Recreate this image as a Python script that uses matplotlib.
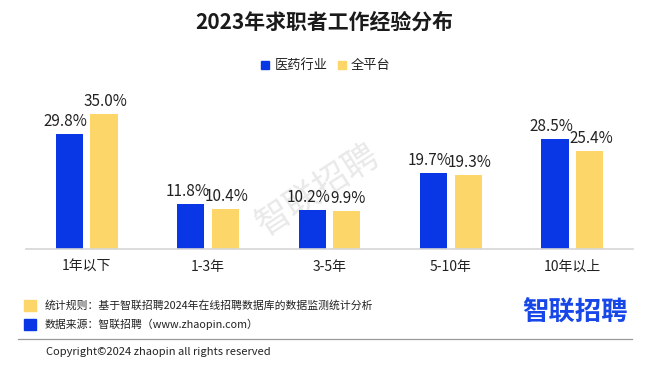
import matplotlib.pyplot as plt
from matplotlib.patches import Rectangle
import numpy as np

plt.rcParams['font.family'] = ['Noto Sans CJK SC', 'DejaVu Sans']

categories = ['1年以下', '1-3年', '3-5年', '5-10年', '10年以上']
pharma = [29.8, 11.8, 10.2, 19.7, 28.5]
platform = [35.0, 10.4, 9.9, 19.3, 25.4]
series_names = ['医药行业', '全平台']

blue = '#0A37E6'
yellow = '#FDD66A'

W, H = 650, 368
fig = plt.figure(figsize=(W / 100, H / 100), dpi=100)
fig.patch.set_facecolor('white')

# watermark, behind everything
fig.text(318 / W, 1 - 190 / H, '智联招聘', ha='center', va='center', fontsize=25,
         rotation=33, color='#E9E9E9', zorder=0)

# axes placed by pixels
ax = fig.add_axes([26 / W, (H - 249) / H, (633 - 26) / W, 154 / H])
ax.set_zorder(2)
x = np.arange(len(categories))
bw = 0.225
gap = 0.03
b1 = ax.bar(x - bw / 2 - gap, pharma, bw, color=blue)
b2 = ax.bar(x + bw / 2 + gap, platform, bw, color=yellow)

for rect, v in zip(b1, pharma):
    ax.text(rect.get_x() + rect.get_width() / 2 - 0.03, v + 1.0, f'{v:.1f}%',
            ha='center', va='bottom', fontsize=11, color='#222222')
for rect, v in zip(b2, platform):
    ax.text(rect.get_x() + rect.get_width() / 2 + 0.01, v + 1.0, f'{v:.1f}%',
            ha='center', va='bottom', fontsize=11, color='#222222')

ax.set_xlim(-0.5, len(categories) - 0.5)
ax.set_ylim(0, 40)
ax.set_xticks(x)
ax.set_xticklabels(categories, fontsize=10, color='#222222')
ax.tick_params(axis='x', length=0, pad=8)
ax.set_yticks([])
for s in ['top', 'right', 'left']:
    ax.spines[s].set_visible(False)
ax.spines['bottom'].set_color('#D5D5D5')
ax.spines['bottom'].set_linewidth(1.2)
ax.set_facecolor('none')

# title and legend
fig.text(324 / W, 1 - 22 / H, '2023年求职者工作经验分布', ha='center', va='center',
         fontsize=15, fontweight='bold', color='#1A1A1A')
leg_y = 1 - 65 / H
fig.patches.append(Rectangle((261 / W, leg_y - 4 / H), 8 / W, 8 / H, color=blue,
                             transform=fig.transFigure, figure=fig))
fig.text(275 / W, leg_y, series_names[0], va='center', fontsize=9.5, color='#222222')
fig.patches.append(Rectangle((338 / W, leg_y - 4 / H), 8 / W, 8 / H, color=yellow,
                             transform=fig.transFigure, figure=fig))
fig.text(351 / W, leg_y, series_names[1], va='center', fontsize=9.5, color='#222222')

# footer
fig.patches.append(Rectangle((24 / W, 1 - 311 / H), 12 / W, 11 / H, color=yellow,
                             transform=fig.transFigure, figure=fig))
fig.text(45 / W, 1 - 305 / H, '统计规则：基于智联招聘2024年在线招聘数据库的数据监测统计分析',
         va='center', fontsize=7.8, color='#222222')
fig.patches.append(Rectangle((24 / W, 1 - 330 / H), 12 / W, 11 / H, color=blue,
                             transform=fig.transFigure, figure=fig))
fig.text(45 / W, 1 - 324 / H, '数据来源：智联招聘（www.zhaopin.com）',
         va='center', fontsize=7.8, color='#222222')
fig.text(628 / W, 1 - 313 / H, '智联招聘', ha='right', va='center', fontsize=19,
         fontweight='bold', color='#1747E8')
fig.add_artist(plt.Line2D([18 / W, 632 / W], [1 - 339 / H, 1 - 339 / H],
                          color='#9A9A9A', linewidth=0.9, transform=fig.transFigure))
fig.text(46 / W, 1 - 352 / H, 'Copyright©2024 zhaopin all rights reserved',
         va='center', fontsize=8, color='#222222')

fig.savefig('out.png', dpi=100, facecolor='white')
